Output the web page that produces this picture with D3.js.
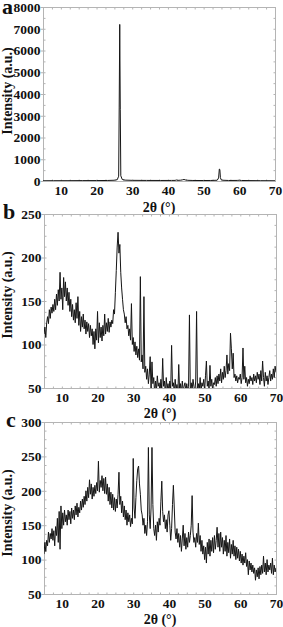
<!DOCTYPE html>
<html lang="en">
<head>
<meta charset="UTF-8">
<title>XRD patterns a-c</title>
<script src="https://cdnjs.cloudflare.com/ajax/libs/d3/7.8.5/d3.min.js"></script>
<style>
    * { margin: 0; padding: 0; }
    body { background: #fff; width: 283px; height: 627px; overflow: hidden; }
    svg text { font-family: "Liberation Serif", "Times New Roman", Times, serif; font-weight: bold; fill: #111; }
    .axis path.domain { display: none; }
    .axis line { stroke: #b4b4b4; }
    .axis text { font-size: 13.5px; }
    .title { font-size: 14px; }
    .panel-label { font-size: 22px; }
</style>
</head>
<body>
<div id="chart"></div>
<script>
    // x ticks shared by all three panels
    const angleTicks = [10, 20, 30, 40, 50, 60, 70];

    // panel a: sharp pattern, sampled where the shape changes
    const aAngles = [5, 8, 12, 16, 20, 23, 25, 25.8, 26.2, 26.35, 26.5, 26.65, 26.8, 27.2, 28, 30, 34, 38, 41, 42, 42.4, 42.8, 43.6, 44.1, 44.5, 44.9, 45.6, 47, 50, 52, 53.8, 54.2, 54.4, 54.55, 54.7, 54.9, 55.4, 57, 59.4, 60, 60.6, 63, 66, 70];
    const aCounts = [12, 14, 15, 18, 20, 24, 35, 60, 220, 3400, 7200, 3300, 240, 70, 40, 30, 26, 24, 26, 28, 45, 30, 38, 55, 70, 50, 32, 24, 22, 24, 35, 140, 550, 530, 160, 60, 35, 24, 26, 36, 24, 18, 15, 12];
    const aTicks = [0, 1000, 2000, 3000, 4000, 5000, 6000, 7000, 8000];

    // panels b and c: one reading every 0.25 degree from 5 to 70
    const angleStart = 5, angleStep = 0.25;
    const bCounts = [
        112, 120, 108, 125, 132, 124, 140, 130, 143, 136, 146, 138, 152, 140, 158, 145, 163, 150, 183, 152,
        165, 140, 177, 155, 172, 150, 165, 145, 160, 138, 152, 132, 146, 128, 140, 125, 148, 130, 155, 122,
        138, 115, 132, 120, 135, 118, 128, 112, 126, 115, 124, 108, 122, 110, 118, 100, 115, 95, 118, 105,
        138, 102, 125, 108, 120, 104, 122, 110, 135, 112, 125, 115, 130, 114, 126, 120, 128, 124, 140, 135,
        160, 185, 212, 229, 205, 215, 183, 165, 152, 140, 135, 125, 132, 118, 122, 110, 118, 105, 147, 100,
        108, 92, 103, 88, 98, 85, 95, 82, 178, 80, 88, 72, 155, 68, 75, 60, 72, 55, 66, 86,
        46, 80, 55, 62, 44, 58, 47, 64, 52, 56, 45, 60, 48, 84, 52, 58, 43, 62, 49, 55,
        45, 58, 47, 99, 52, 56, 44, 60, 48, 54, 42, 77, 46, 55, 44, 58, 47, 52, 56, 45,
        55, 46, 52, 134, 44, 56, 47, 60, 52, 45, 58, 138, 44, 55, 48, 62, 46, 56, 52, 60,
        47, 64, 81, 52, 58, 48, 76, 52, 60, 47, 56, 54, 62, 52, 64, 55, 66, 58, 72, 56,
        68, 60, 75, 62, 70, 88, 66, 78, 70, 113, 95, 72, 90, 62, 66, 58, 64, 56, 62, 60,
        66, 55, 62, 96, 60, 75, 56, 62, 52, 60, 55, 64, 58, 62, 54, 66, 58, 64, 56, 68,
        60, 66, 54, 70, 58, 81, 62, 52, 68, 58, 64, 54, 62, 70, 58, 66, 60, 72, 62, 75,
        68
    ];
    const bTicks = [50, 100, 150, 200, 250];

    const cCounts = [
        108, 125, 112, 128, 120, 140, 125, 138, 130, 145, 128, 142, 120, 148, 135, 160, 125, 170, 115, 178,
        145, 168, 150, 172, 155, 165, 150, 172, 158, 170, 152, 175, 160, 172, 158, 178, 165, 182, 162, 176,
        168, 185, 172, 188, 176, 192, 180, 200, 185, 205, 190, 216, 195, 210, 188, 205, 192, 208, 196, 212,
        200, 243, 198, 215, 205, 222, 200, 218, 196, 220, 195, 210, 185, 205, 180, 198, 175, 195, 172, 190,
        170, 188, 175, 195, 227, 180, 192, 168, 185, 162, 178, 158, 172, 150, 168, 155, 165, 148, 160, 152,
        247, 175, 160, 190, 215, 232, 236, 210, 195, 172, 165, 150, 160, 138, 150, 135, 155, 263, 165, 145,
        175, 263, 180, 145, 135, 150, 128, 155, 140, 160, 150, 185, 214, 170, 155, 165, 145, 158, 140, 165,
        171, 150, 128, 145, 180, 208, 175, 140, 130, 145, 125, 138, 118, 135, 112, 130, 150, 120, 138, 115,
        132, 118, 140, 125, 135, 150, 193, 140, 125, 132, 118, 138, 125, 153, 122, 135, 112, 128, 108, 120,
        100, 118, 95, 125, 108, 130, 105, 128, 112, 132, 110, 135, 115, 128, 147, 118, 138, 112, 140, 118,
        132, 108, 128, 112, 135, 105, 125, 110, 130, 102, 122, 108, 128, 105, 120, 100, 118, 102, 115, 98,
        112, 95, 108, 92, 105, 95, 110, 90, 100, 78, 98, 85, 95, 82, 92, 80, 88, 70, 85, 75,
        88, 72, 90, 78, 92, 80, 105, 82, 95, 78, 100, 82, 92, 85, 95, 80, 102, 78, 92, 82,
        88
    ];
    const cTicks = [50, 100, 150, 200, 250, 300];

    const width = 283, height = 627;

    const svg = d3.select("#chart").append("svg")
        .attr("width", width)
        .attr("height", height)
        .style("display", "block");

    function stepAngles(counts) {
        return counts.map((c, i) => [angleStart + i * angleStep, c]);
    }

    function styledAxis(g) {
        // d3 puts font-family="sans-serif" on the axis group; drop it
        g.attr("font-family", null).attr("font-size", null);
    }

    function drawPanel(p) {
        const x = d3.scaleLinear().domain([5, 70]).range([p.left, p.right]);
        const y = d3.scaleLinear().domain(p.yDomain).range([p.bottom, p.top]);
        const g = svg.append("g");

        g.append("clipPath").attr("id", "clip-" + p.name)
            .append("rect")
            .attr("x", p.left).attr("y", p.top)
            .attr("width", p.right - p.left).attr("height", p.bottom - p.top);

        // frame
        g.append("rect")
            .attr("x", p.left + 0.5).attr("y", p.top + 0.5)
            .attr("width", p.right - p.left).attr("height", p.bottom - p.top)
            .attr("fill", "none").attr("stroke", "#b4b4b4");

        // minor ticks pointing inward on all four sides
        const xMinor = d3.range(5, 70.01, 2.5);
        const yMinor = d3.range(p.yDomain[0], p.yDomain[1] + 0.01, p.yMinor);
        g.append("g").attr("class", "axis").attr("transform", `translate(0,${p.bottom + 0.5})`)
            .call(d3.axisBottom(x).tickValues(xMinor).tickSize(-2).tickFormat(""));
        g.append("g").attr("class", "axis").attr("transform", `translate(0,${p.top + 0.5})`)
            .call(d3.axisTop(x).tickValues(xMinor).tickSize(-2).tickFormat(""));
        g.append("g").attr("class", "axis").attr("transform", `translate(${p.left + 0.5},0)`)
            .call(d3.axisLeft(y).tickValues(yMinor).tickSize(-2).tickFormat(""));
        g.append("g").attr("class", "axis").attr("transform", `translate(${p.right + 0.5},0)`)
            .call(d3.axisRight(y).tickValues(yMinor).tickSize(-2).tickFormat(""));

        // labelled axes
        g.append("g").attr("class", "axis").attr("transform", `translate(0,${p.bottom})`)
            .call(d3.axisBottom(x).tickValues(angleTicks).tickSize(0).tickPadding(4.5).tickFormat(d3.format("d")))
            .call(styledAxis);
        g.append("g").attr("class", "axis").attr("transform", `translate(${p.left + 0.5},0)`)
            .call(d3.axisLeft(y).tickValues(p.yTicks).tickSize(3).tickPadding(0).tickFormat(d3.format("d")))
            .call(styledAxis);

        // pattern
        const line = d3.line().x(d => x(d[0])).y(d => y(d[1]));
        g.append("path")
            .datum(p.points)
            .attr("clip-path", `url(#clip-${p.name})`)
            .attr("fill", "none")
            .attr("stroke", "#151515")
            .attr("stroke-width", 1)
            .attr("d", line);

        // titles
        g.append("text").attr("class", "title")
            .attr("x", (p.left + p.right) / 2).attr("y", p.bottom + p.xTitleGap)
            .attr("text-anchor", "middle")
            .text("2θ (°)");
        g.append("text").attr("class", "title")
            .attr("transform", `translate(12,${p.titleY}) rotate(-90)`)
            .attr("text-anchor", "middle")
            .text("Intensity (a.u.)");
        g.append("text").attr("class", "panel-label")
            .attr("x", p.labelX).attr("y", p.labelY)
            .text(p.name);
    }

    drawPanel({
        name: "a", left: 43, right: 275, top: 7, bottom: 181,
        yDomain: [0, 8000], yTicks: aTicks, yMinor: 500,
        points: aAngles.map((a, i) => [a, aCounts[i]]),
        xTitleGap: 30.5, titleY: 91, labelX: 2, labelY: 14
    });
    drawPanel({
        name: "b", left: 44, right: 276, top: 214, bottom: 388,
        yDomain: [50, 250], yTicks: bTicks, yMinor: 12.5,
        points: stepAngles(bCounts),
        xTitleGap: 29.5, titleY: 295, labelX: 3, labelY: 219
    });
    drawPanel({
        name: "c", left: 44, right: 276, top: 422, bottom: 594,
        yDomain: [50, 300], yTicks: cTicks, yMinor: 12.5,
        points: stepAngles(cCounts),
        xTitleGap: 29.5, titleY: 513, labelX: 6, labelY: 427
    });
</script>
</body>
</html>
